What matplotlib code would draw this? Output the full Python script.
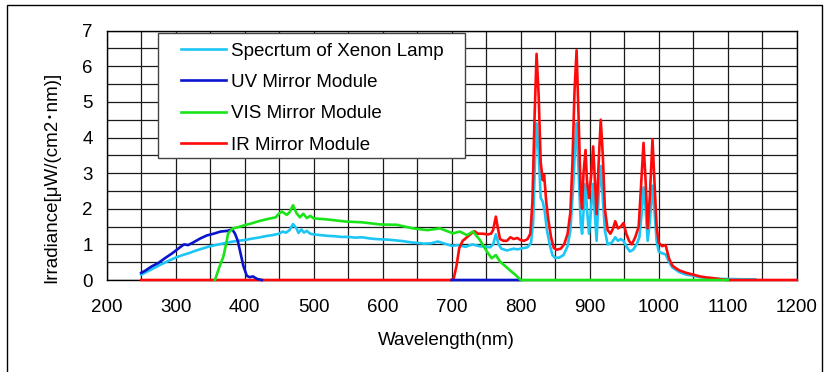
import matplotlib
matplotlib.use("Agg")
import matplotlib.pyplot as plt
from matplotlib.patches import Rectangle

plt.rcParams['font.family'] = ['Liberation Sans', 'Noto Sans CJK JP', 'DejaVu Sans']

nan = float('nan')

# Spectrum of the xenon lamp
xenon_wl = [250, 260, 270, 280, 290, 300, 310, 320, 330, 340, 350, 360, 370, 380, 390,
            400, 410, 420, 430, 440, 450, 455, 460, 465, 470, 475, 478, 482, 486, 490,
            495, 500, 510, 520, 530, 540, 550, 560, 570, 580, 590, 600, 610, 620, 630,
            640, 650, 660, 670, 680, 690, 700, 710, 720, 730, 740, 750, 756, 760, 764,
            768, 772, 780, 790, 795, 800, 810, 815, 818, 821, 823, 826, 829, 832, 835,
            838, 842, 846, 850, 856, 862, 868, 872, 876, 879, 881, 884, 887, 889, 892,
            894, 896, 899, 902, 905, 907, 910, 913, 916, 919, 922, 926, 932, 937, 941,
            945, 949, 953, 958, 963, 968, 972, 975, 978, 981, 984, 987, 991, 994, 997,
            1000, 1005, 1010, 1015, 1020, 1030, 1040, 1050, 1060, 1070, 1080, 1090, 1100,
            1120, 1140]
xenon_val = [0.15, 0.25, 0.35, 0.45, 0.54, 0.63, 0.70, 0.76, 0.83, 0.89, 0.95, 0.99, 1.03, 1.07, 1.10,
             1.12, 1.16, 1.19, 1.23, 1.26, 1.30, 1.36, 1.33, 1.40, 1.57, 1.45, 1.32, 1.42, 1.33, 1.38,
             1.30, 1.28, 1.26, 1.24, 1.23, 1.21, 1.21, 1.19, 1.20, 1.17, 1.15, 1.14, 1.13, 1.11, 1.09,
             1.06, 1.04, 1.02, 1.03, 1.08, 1.02, 0.96, 0.98, 0.93, 1.00, 0.95, 0.93, 0.92, 1.00, 1.28,
             1.00, 0.88, 0.83, 0.88, 0.86, 0.88, 0.92, 1.05, 1.60, 3.50, 4.40, 3.60, 2.30, 2.20, 1.90,
             1.40, 1.00, 0.70, 0.62, 0.63, 0.70, 0.95, 1.40, 2.60, 3.80, 4.40, 3.00, 1.60, 1.30, 2.20,
             2.70, 2.00, 1.30, 2.00, 2.70, 2.00, 1.10, 2.40, 3.20, 2.30, 1.40, 1.00, 1.05, 1.20, 1.10,
             1.15, 1.10, 0.95, 0.80, 0.85, 1.00, 1.20, 1.80, 2.60, 2.00, 1.10, 1.60, 2.65, 1.90, 1.10,
             0.80, 0.75, 0.72, 0.50, 0.35, 0.22, 0.15, 0.12, 0.08, 0.05, 0.04, 0.03, 0.03,
             0.02, 0.02]

# UV mirror module (no trace between 425 and 700 nm)
uv_wl = [250, 255, 265, 275, 285, 295, 305, 312, 318, 325, 336, 345, 355, 365, 375,
         382, 386, 390, 394, 398, 403, 407, 412, 418, 425, 560, 700, 800]
uv_val = [0.20, 0.25, 0.38, 0.48, 0.62, 0.75, 0.90, 1.00, 0.98, 1.05, 1.17, 1.25, 1.30, 1.36, 1.38,
          1.42, 1.30, 1.10, 0.75, 0.40, 0.12, 0.08, 0.10, 0.03, 0.0, nan, 0.0, 0.0]

# VIS mirror module
vis_wl = [357, 363, 369, 373, 376, 383, 390, 400, 410, 422, 435, 445, 450, 454,
          461, 465, 470, 475, 480, 485, 490, 495, 500, 520, 547, 570, 596, 620, 644,
          665, 683, 695, 702, 712, 722, 731, 741, 751, 758, 764, 770, 784, 792, 800,
          1100]
vis_val = [0.0, 0.35, 0.65, 1.00, 1.31, 1.45, 1.48, 1.54, 1.59, 1.66, 1.72, 1.76, 1.87, 1.92,
           1.83, 1.90, 2.10, 1.88, 1.76, 1.86, 1.74, 1.80, 1.73, 1.70, 1.64, 1.62, 1.56, 1.55, 1.45,
           1.40, 1.45, 1.36, 1.31, 1.36, 1.26, 1.36, 1.12, 0.80, 0.61, 0.70, 0.52, 0.28, 0.15, 0.0,
           0.0]

# IR mirror module
ir_wl = [250, 700, 703, 707, 711, 716, 722, 728, 733, 738, 745, 752, 757, 760, 764,
         767, 770, 775, 780, 785, 790, 795, 800, 805, 810, 814, 817, 820, 823, 826,
         829, 832, 834, 837, 840, 844, 848, 852, 858, 863, 868, 872, 875, 878, 881,
         884, 887, 889, 891, 894, 896, 899, 902, 905, 907, 910, 913, 916, 919, 922,
         926, 930, 934, 937, 941, 945, 949, 953, 957, 961, 966, 971, 974, 978, 981,
         984, 987, 991, 994, 997, 1000, 1005, 1010, 1015, 1020, 1025, 1030, 1040, 1050, 1060,
         1070, 1080, 1090, 1100, 1200]
ir_val = [0.0, 0.0, 0.05, 0.40, 0.90, 1.10, 1.20, 1.30, 1.37, 1.30, 1.30, 1.28, 1.30, 1.40, 1.78,
          1.45, 1.15, 1.10, 1.10, 1.20, 1.15, 1.18, 1.12, 1.10, 1.15, 1.30, 2.20, 4.50, 6.35, 5.20,
          3.30, 2.80, 2.95, 2.20, 1.70, 1.20, 0.90, 0.85, 0.88, 1.00, 1.30, 1.90, 3.30, 5.30, 6.45,
          4.50, 2.40, 2.00, 3.00, 3.65, 2.80, 2.30, 2.90, 3.75, 3.00, 1.85, 3.30, 4.50, 3.50, 2.00,
          1.40, 1.30, 1.45, 1.65, 1.45, 1.50, 1.60, 1.30, 1.10, 1.00, 1.20, 1.50, 2.50, 3.85, 2.80,
          1.45, 2.30, 3.95, 2.70, 1.50, 1.05, 0.95, 0.98, 0.60, 0.40, 0.33, 0.27, 0.20, 0.15, 0.10,
          0.07, 0.05, 0.02, 0.0, 0.0]

x_ticks = list(range(200, 1201, 100))
y_ticks = list(range(0, 8))

fig = plt.figure(figsize=(8.25, 3.72), dpi=100)
ax = fig.add_axes([0.1293, 0.2473, 0.8364, 0.6702])

# outer frame of the picture
fig.patches.append(Rectangle((7 / 825, -0.1), 815 / 825, 1.1 - 4.5 / 372,
                             transform=fig.transFigure, fill=False,
                             edgecolor='black', linewidth=1.0))

lw = 1.9
ax.plot(xenon_wl, xenon_val, color='#1CC6F4', lw=lw, label='Specrtum of Xenon Lamp', clip_on=False, zorder=3)
ax.plot(uv_wl, uv_val, color='#0A14CC', lw=lw, label='UV Mirror Module', clip_on=False, zorder=3.2)
ax.plot(vis_wl, vis_val, color='#18E418', lw=lw, label='VIS Mirror Module', clip_on=False, zorder=3.3)
ax.plot(ir_wl, ir_val, color='#FF0A0A', lw=lw, label='IR Mirror Module', clip_on=False, zorder=3.1)

ax.set_xlim(200, 1200)
ax.set_ylim(0, 7)
ax.set_xticks(x_ticks)
ax.set_yticks(y_ticks)
ax.set_xticks(range(250, 1200, 100), minor=True)
ax.set_yticks([v + 0.5 for v in range(7)], minor=True)
ax.grid(True, which='both', color='#1a1a1a', linewidth=0.9, zorder=1)
ax.set_axisbelow(True)
ax.tick_params(which='both', length=0, labelsize=13.5)
ax.tick_params(axis='x', pad=14)
ax.tick_params(axis='y', pad=10)
for s in ax.spines.values():
    s.set_color('black')
    s.set_linewidth(1.0)

ax.set_xlabel('Wavelength(nm)', fontsize=13.5, va='center')
ax.xaxis.set_label_coords(0.4928, -0.2407)
ax.set_ylabel('Irradiance[μW/(cm2･nm)]', fontsize=13.5, va='center')
ax.yaxis.set_label_coords(-0.0793, 0.411)

# legend box
ax.add_patch(Rectangle((0.0743, 0.4894), 0.4449, 0.5014, transform=ax.transAxes,
                       facecolor='white', edgecolor='#444444', linewidth=1.0, zorder=4))
leg = ax.legend(loc='upper left', bbox_to_anchor=(0.1077, 0.953), frameon=False,
                fontsize=13.5, borderpad=0, handlelength=2.4, handletextpad=0.25,
                labelspacing=0.76, borderaxespad=0)
leg.set_zorder(5)

fig.savefig('out.png', dpi=100)
